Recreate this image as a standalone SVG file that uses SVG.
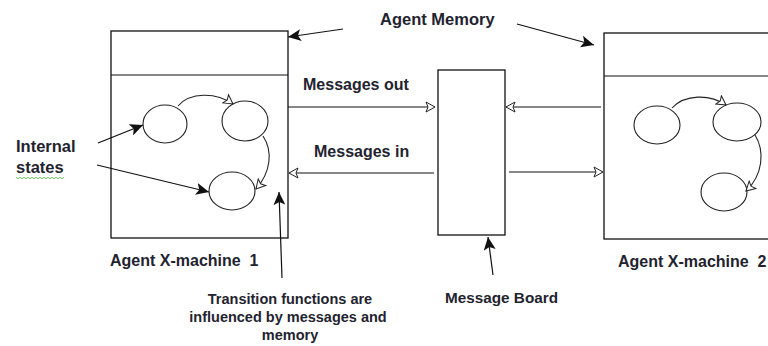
<svg xmlns="http://www.w3.org/2000/svg" width="768" height="346" viewBox="0 0 768 346">
<style>
  .box{fill:#fff;stroke:#111;stroke-width:1.3}
  .st{fill:none;stroke:#222;stroke-width:1.1}
  .ln{fill:none;stroke:#111;stroke-width:1.2}
  .fa{marker-end:url(#filled)}
  .oa{marker-end:url(#open)}
  text{font-family:"Liberation Sans",Arial,sans-serif;font-weight:bold;fill:#23232f;font-size:16px;white-space:pre}
  .sm{font-size:14.5px}
</style>
<defs>
  <marker id="filled" markerUnits="userSpaceOnUse" markerWidth="14" markerHeight="12" refX="13" refY="6" orient="auto">
    <path d="M0,0 L13,6 L0,12 L3,6 Z" fill="#111"/>
  </marker>
  <marker id="open" markerUnits="userSpaceOnUse" markerWidth="12" markerHeight="12" refX="10" refY="6" orient="auto">
    <path d="M1,1 L10,6 L1,11 L3,6 Z" fill="#fff" stroke="#222" stroke-width="1"/>
  </marker>
</defs>
<rect width="768" height="346" fill="#fff"/>

<g id="agent1">
  <rect class="box" x="111" y="31" width="177" height="207"/>
  <line class="ln" x1="111" y1="75" x2="288" y2="75"/>
  <ellipse class="st" cx="165" cy="124" rx="22" ry="19"/>
  <ellipse class="st" cx="245" cy="121" rx="23" ry="20"/>
  <ellipse class="st" cx="232" cy="191" rx="23" ry="19"/>
  <path class="st oa" d="M178,106 C190,92 216,92 233,104"/>
  <path class="st oa" d="M263,136 C273,151 271,172 256,189"/>
</g>

<g id="agent2">
  <rect class="box" x="604" y="33" width="170" height="206"/>
  <line class="ln" x1="604" y1="76" x2="768" y2="76"/>
  <ellipse class="st" cx="657" cy="125" rx="23" ry="19"/>
  <ellipse class="st" cx="737" cy="122" rx="24" ry="19"/>
  <ellipse class="st" cx="724" cy="192" rx="23" ry="19"/>
  <path class="st oa" d="M672,108 C685,94 710,94 726,105"/>
  <path class="st oa" d="M755,135 C765,151 763,175 746,191"/>
</g>

<g id="board">
  <rect class="box" x="438" y="70" width="67" height="165"/>
</g>

<g id="connectors">
  <line class="ln oa" x1="288" y1="107" x2="435" y2="107"/>
  <line class="ln oa" x1="434" y1="173" x2="289" y2="173"/>
  <line class="ln oa" x1="601" y1="107" x2="506" y2="107"/>
  <line class="ln oa" x1="509" y1="172" x2="603" y2="172"/>
  <line class="ln fa" x1="98" y1="143" x2="143" y2="125"/>
  <line class="ln fa" x1="97" y1="165" x2="209" y2="192"/>
  <line class="ln fa" x1="343" y1="29" x2="288" y2="37"/>
  <line class="ln fa" x1="517" y1="24" x2="594" y2="45"/>
  <line class="ln fa" x1="282" y1="278" x2="279" y2="192"/>
  <line class="ln fa" x1="493" y1="275" x2="488" y2="237"/>
</g>

<g id="labels">
  <text x="380" y="25" style="font-size:16.5px">Agent Memory</text>
  <text x="303" y="90">Messages out</text>
  <text x="314" y="157">Messages in</text>
  <text x="16" y="152" style="font-size:16.5px">Internal</text>
  <text x="16" y="173" style="font-size:16.5px">states</text>
  <path d="M16,177 l2,2 l2,-2 l2,2 l2,-2 l2,2 l2,-2 l2,2 l2,-2 l2,2 l2,-2 l2,2 l2,-2 l2,2 l2,-2 l2,2 l2,-2 l2,2 l2,-2 l2,2 l2,-2 l2,2 l2,-2 l2,2 l2,-2" fill="none" stroke="#6bbf59" stroke-width="0.9"/>
  <text x="110" y="266">Agent X-machine  1</text>
  <text x="618" y="267">Agent X-machine  2</text>
  <text x="445" y="303" style="font-size:15.3px">Message Board</text>
  <text class="sm" x="290" y="304" text-anchor="middle">Transition functions are</text>
  <text class="sm" x="288" y="322" text-anchor="middle">influenced by messages and</text>
  <text class="sm" x="290" y="340" text-anchor="middle">memory</text>
</g>
</svg>
